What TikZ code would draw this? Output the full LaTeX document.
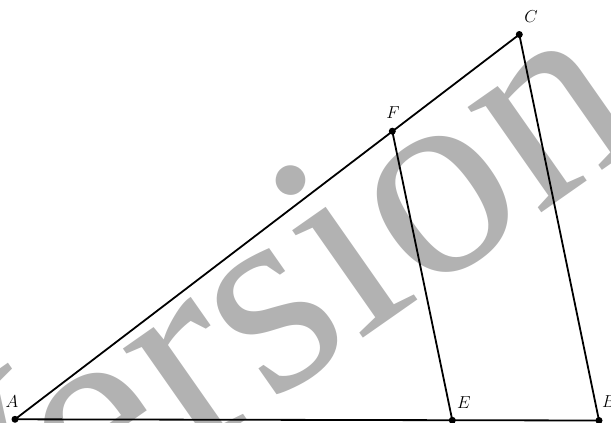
\documentclass[tikz,border=0pt]{standalone}
\usepackage{fontspec}
\newfontfamily\wmfont{Liberation Serif}
\usepackage{tikz}
\usetikzlibrary{positioning}
\tikzset{
  seg/.style={line width=1.8pt, line cap=round},
  pt/.style={circle, fill=black, inner sep=0pt, minimum size=7pt},
  lbl/.style={font=\fontsize{18}{20}\selectfont, inner sep=1pt},
  wm/.style={font=\wmfont\fontsize{280}{280}\selectfont, text=black!30,
             inner sep=0pt, rotate=35, anchor=base},
}

\begin{document}
\begin{tikzpicture}[x=1pt, y=-1pt]
\useasboundingbox (0,0) rectangle (611,423);
\node[wm] (mark) at (301,382) {Version};
\node[pt] (A) at (15,419.3) {};
\node[pt] (E) at (452.3,420.3) {};
\node[pt] (B) at (599,420.5) {};
\node[pt] (C) at (519.3,34.5) {};
\node[pt] (F) at (392.3,131.2) {};
\draw[seg] (A.center) -- (B.center) -- (C.center) -- (A.center);
\draw[seg] (F.center) -- (E.center);
\node[lbl] (lA) at (12,402) {$A$};
\node[lbl] (lE) at (464,403) {$E$};
\node[lbl] (lB) at (609,402) {$B$};
\node[lbl] (lC) at (531,17) {$C$};
\node[lbl] (lF) at (393,113) {$F$};
\end{tikzpicture}
\end{document}
